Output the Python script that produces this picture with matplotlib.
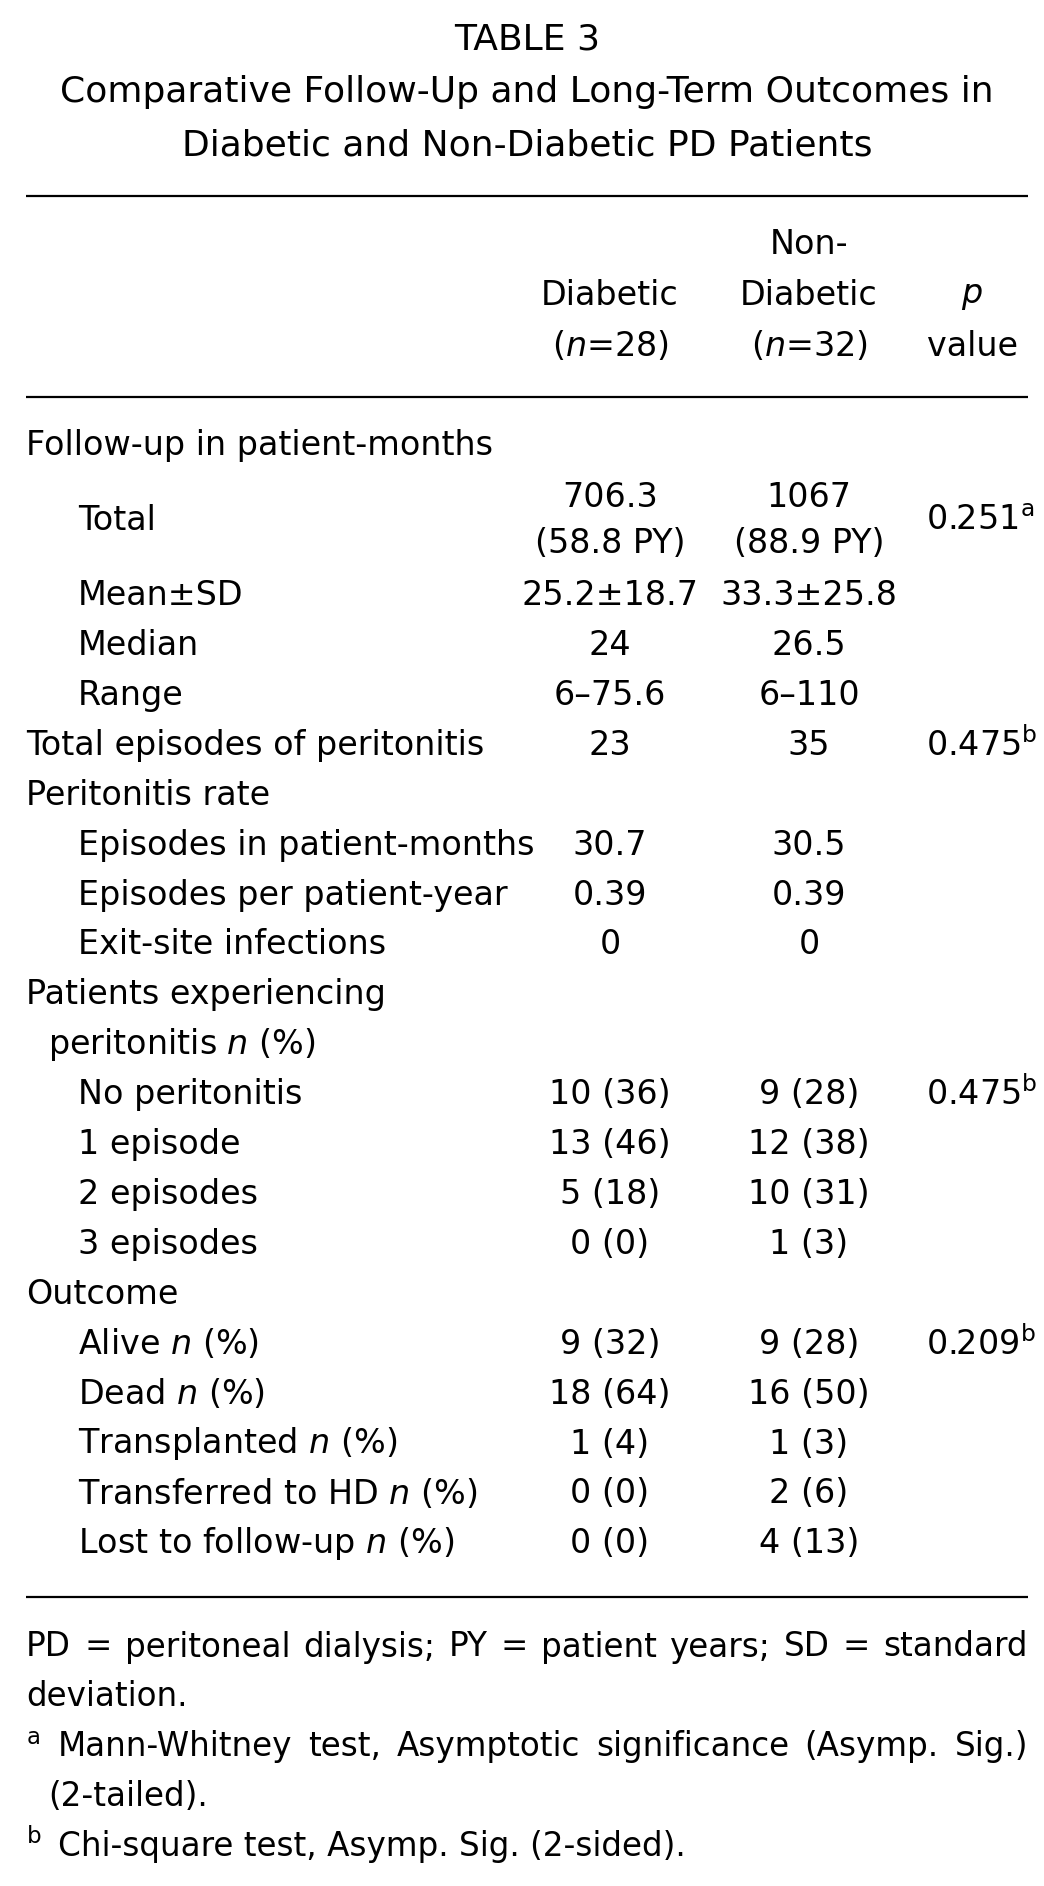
import matplotlib
matplotlib.use("Agg")
import matplotlib.pyplot as plt

plt.rcParams["font.family"] = ["DejaVu Sans"]
plt.rcParams["mathtext.fontset"] = "dejavusans"

# ---- table content ----
title_lines = ["TABLE 3",
               "Comparative Follow-Up and Long-Term Outcomes in",
               "Diabetic and Non-Diabetic PD Patients"]

col_heads = [["", "Diabetic", "($n$=28)"],
             ["Non-", "Diabetic", "($n$=32)"],
             ["", "$p$", "value"]]

row_labels = ["Follow-up in patient-months", "Total", "Mean±SD", "Median", "Range",
              "Total episodes of peritonitis", "Peritonitis rate",
              "Episodes in patient-months", "Episodes per patient-year",
              "Exit-site infections", "Patients experiencing",
              "peritonitis $n$ (%)", "No peritonitis", "1 episode",
              "2 episodes", "3 episodes", "Outcome", "Alive $n$ (%)",
              "Dead $n$ (%)", "Transplanted $n$ (%)", "Transferred to HD $n$ (%)",
              "Lost to follow-up $n$ (%)"]
row_indent = [0, 2, 2, 2, 2, 0, 0, 2, 2, 2, 0, 1, 2, 2, 2, 2, 0, 2, 2, 2, 2, 2]
row_span = [1, 2, 1, 1, 1, 1, 1, 1, 1, 1, 1, 1, 1, 1, 1, 1, 1, 1, 1, 1, 1, 1]

diabetic = ["", "706.3\n(58.8 PY)", "25.2±18.7", "24", "6–75.6", "23", "",
            "30.7", "0.39", "0", "", "", "10 (36)", "13 (46)", "5 (18)", "0 (0)",
            "", "9 (32)", "18 (64)", "1 (4)", "0 (0)", "0 (0)"]
non_diabetic = ["", "1067\n(88.9 PY)", "33.3±25.8", "26.5", "6–110", "35", "",
                "30.5", "0.39", "0", "", "", "9 (28)", "12 (38)", "10 (31)", "1 (3)",
                "", "9 (28)", "16 (50)", "1 (3)", "2 (6)", "4 (13)"]
p_values = ["", "0.251$^{\\mathrm{a}}$", "", "", "", "0.475$^{\\mathrm{b}}$", "",
            "", "", "", "", "", "0.475$^{\\mathrm{b}}$", "", "", "",
            "", "0.209$^{\\mathrm{b}}$", "", "", "", ""]

# (mark, text, justified)
footnotes = [("", "PD = peritoneal dialysis; PY = patient years; SD = standard", True),
             ("", "deviation.", False),
             ("a", "Mann-Whitney test, Asymptotic significance (Asymp. Sig.)", True),
             ("", "(2-tailed).", False),
             ("b", "Chi-square test, Asymp. Sig. (2-sided).", False)]

# ---- layout (pixel coordinates) ----
W, H = 1044, 1886
fig = plt.figure(figsize=(W / 100, H / 100), dpi=100)
ax = fig.add_axes([0, 0, 1, 1])
ax.set_xlim(0, W)
ax.set_ylim(H, 0)
ax.axis("off")
renderer = fig.canvas.get_renderer()

fs = 24
fs_title = 26
fs_foot = 23.5
left, right = 26, 1028
x_indent = {0: 26, 1: 48, 2: 78}
x_dia, x_non, x_p = 610, 809, 926
x_p_head = 972
pitch = 49.9

for i, t in enumerate(title_lines):
    ax.text((left + right) / 2, 39 + i * 53, t, ha="center", va="center", fontsize=fs_title)

for y in (196, 397, 1597):
    ax.plot([left, right], [y, y], color="black", lw=1.6, solid_capstyle="butt")

for xc, lines in zip((x_dia, x_non, x_p_head), col_heads):
    for j, t in enumerate(lines):
        if t:
            ax.text(xc, 245 + j * 50.5, t, ha="center", va="center", fontsize=fs)

line = 0
y0 = 446
for lab, ind, sp, d, n, p in zip(row_labels, row_indent, row_span,
                                 diabetic, non_diabetic, p_values):
    yc = y0 + (line + (sp - 1) / 2) * pitch
    ax.text(x_indent[ind], yc, lab, ha="left", va="center", fontsize=fs)
    for xc, v in ((x_dia, d), (x_non, n)):
        if v:
            ax.text(xc, yc, v, ha="center", va="center", fontsize=fs,
                    linespacing=1.5, multialignment="center")
    if p:
        ax.text(x_p, yc, p, ha="left", va="center", fontsize=fs)
    line += sp


def justified(x0, x1, y, s, size):
    words = s.split(" ")
    objs = [ax.text(0, y, w, ha="left", va="center", fontsize=size) for w in words]
    widths = [o.get_window_extent(renderer).width for o in objs]
    gap = max((x1 - x0 - sum(widths)) / (len(words) - 1), 0.25 * size)
    x = x0
    for o, w in zip(objs, widths):
        o.set_x(x)
        x += w + gap


for k, (mark, t, just) in enumerate(footnotes):
    yk = 1647 + k * 49.8
    x0 = left if (k < 2) else 58
    if mark:
        ax.text(left, yk, "$^{\\mathrm{%s}}$" % mark, ha="left", va="center", fontsize=fs_foot)
    if just:
        justified(x0, right, yk, t, fs_foot)
    else:
        ax.text(x0 if k != 3 else 48, yk, t, ha="left", va="center", fontsize=fs_foot)

fig.savefig("out.png", dpi=100, facecolor="white")
